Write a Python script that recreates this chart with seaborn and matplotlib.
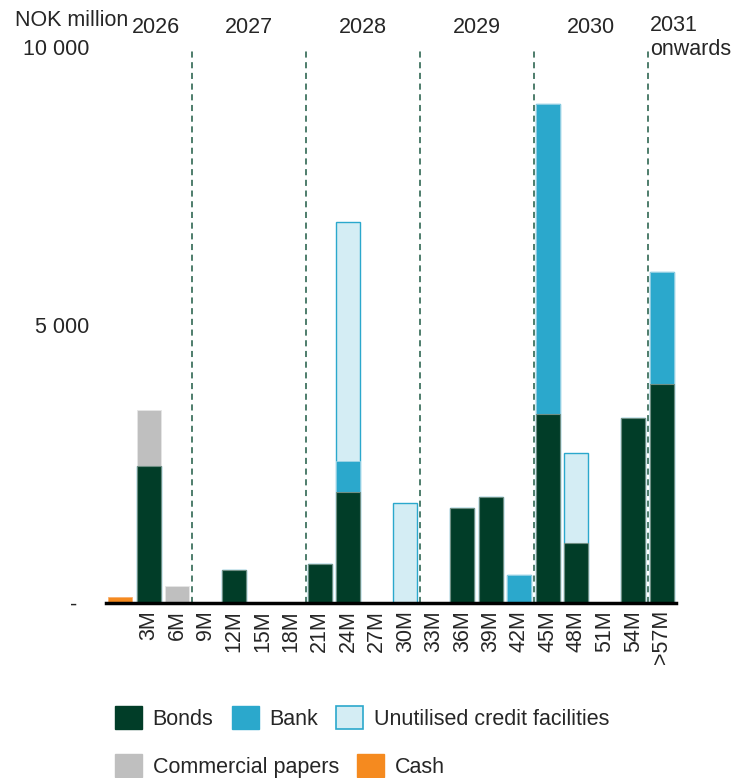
import matplotlib
matplotlib.use("Agg")
import matplotlib.pyplot as plt
import matplotlib.transforms as mtransforms
from matplotlib.patches import Patch
import numpy as np
import seaborn as sns

# ---- data (NOK million) ----
categories = ["", "3M", "6M", "9M", "12M", "15M", "18M", "21M", "24M", "27M",
              "30M", "33M", "36M", "39M", "42M", "45M", "48M", "51M", "54M", ">57M"]
bonds       = [0, 2470, 0, 0, 600, 0, 0, 700, 2000, 0, 0, 0, 1700, 1900, 0, 3400, 1080, 0, 3320, 3930]
bank        = [0, 0, 0, 0, 0, 0, 0, 0, 560, 0, 0, 0, 0, 0, 500, 5570, 0, 0, 0, 2030]
unutilised  = [0, 0, 0, 0, 0, 0, 0, 0, 4300, 0, 1800, 0, 0, 0, 0, 0, 1610, 0, 0, 0]
commercial  = [0, 1000, 310, 0, 0, 0, 0, 0, 0, 0, 0, 0, 0, 0, 0, 0, 0, 0, 0, 0]
cash        = [110, 0, 0, 0, 0, 0, 0, 0, 0, 0, 0, 0, 0, 0, 0, 0, 0, 0, 0, 0]
year_labels = ["2026", "2027", "2028", "2029", "2030", "2031\nonwards"]
year_pos    = [1.25, 4.5, 8.5, 12.5, 16.5, 18.6]
dividers    = [2.5, 6.5, 10.5, 14.5, 18.5]
ytick_vals  = [0, 5000, 10000]
ytick_text  = ["-  ", "5 000", "10 000"]

C_BONDS = "#013D28"
C_BANK = "#2BA8CC"
C_UNUT = "#D4EDF4"
C_CP = "#BFBFBF"
C_CASH = "#F58A1F"
FS = 15.5

sns.set_theme(style="white")
plt.rcParams["font.family"] = ["Liberation Sans", "DejaVu Sans"]

fig = plt.figure(figsize=(7.36, 7.78), dpi=100)
W, H = 736, 778
ax = fig.add_axes([106 / W, 1 - 603 / H, 570 / W, (603 - 47) / H])

b = np.array(bonds)
bk = np.array(bank)
un = np.array(unutilised)
cp = np.array(commercial)
ca = np.array(cash)

layers = [
    (b + bk + un, C_UNUT, C_BANK, 1.0),
    (b + bk, C_BANK, "#9fd4e6", 0.6),
    (b + cp, C_CP, "#e6e6e6", 0.6),
    (b, C_BONDS, "#6f8f84", 0.8),
    (ca, C_CASH, "#f8b070", 0.6),
]
xpos = np.arange(len(categories))
for vals, col, ec, lw in layers:
    sns.barplot(x=xpos, y=vals, color=col, width=0.84, edgecolor=ec,
                linewidth=lw, saturation=1, ax=ax, native_scale=False)

ax.set_xlim(-0.5, len(categories) - 0.5)
ax.set_ylim(0, 10000)
ax.set_xticks(xpos)
ax.set_xticklabels(categories, rotation=90, fontsize=FS)
ax.set_yticks(ytick_vals)
ax.set_yticklabels(ytick_text, fontsize=FS)
ax.tick_params(axis="y", length=0, pad=12)
ax.tick_params(axis="x", length=0, pad=5)
ax.set_xlabel("")
ax.set_ylabel("")
for s in ["top", "right", "left"]:
    ax.spines[s].set_visible(False)
ax.spines["bottom"].set_color("black")
ax.spines["bottom"].set_linewidth(2.5)

for d in dividers:
    ax.axvline(d, color="#1E5A44", linestyle=(0, (4, 3)), linewidth=1.1, zorder=0.5)

trans = mtransforms.blended_transform_factory(ax.transData, ax.transAxes)
for lab, p in zip(year_labels, year_pos):
    if "\n" in lab:
        ax.text(p, (603 - 15) / (603 - 47), lab, transform=trans, ha="left", va="top",
                fontsize=FS, linespacing=1.2)
    else:
        ax.text(p, (603 - 27) / (603 - 47), lab, transform=trans, ha="center", va="center",
                fontsize=FS)

fig.text(15 / W, 1 - 20 / H, "NOK million", ha="left", va="center", fontsize=FS)

h1 = [Patch(facecolor=C_BONDS, edgecolor=C_BONDS, label="Bonds"),
      Patch(facecolor=C_BANK, edgecolor=C_BANK, label="Bank"),
      Patch(facecolor=C_UNUT, edgecolor=C_BANK, linewidth=1.2, label="Unutilised credit facilities")]
h2 = [Patch(facecolor=C_CP, edgecolor=C_CP, label="Commercial papers"),
      Patch(facecolor=C_CASH, edgecolor=C_CASH, label="Cash")]
common = dict(frameon=False, fontsize=FS, handlelength=1.25, handleheight=1.25,
              handletextpad=0.5, columnspacing=0.85, borderpad=0, borderaxespad=0,
              loc="center left")
leg1 = fig.legend(handles=h1, ncol=3, bbox_to_anchor=(115 / W, 1 - 718 / H), **common)
leg2 = fig.legend(handles=h2, ncol=2, bbox_to_anchor=(115 / W, 1 - 766 / H), **common)

fig.savefig("out.png", dpi=100)
